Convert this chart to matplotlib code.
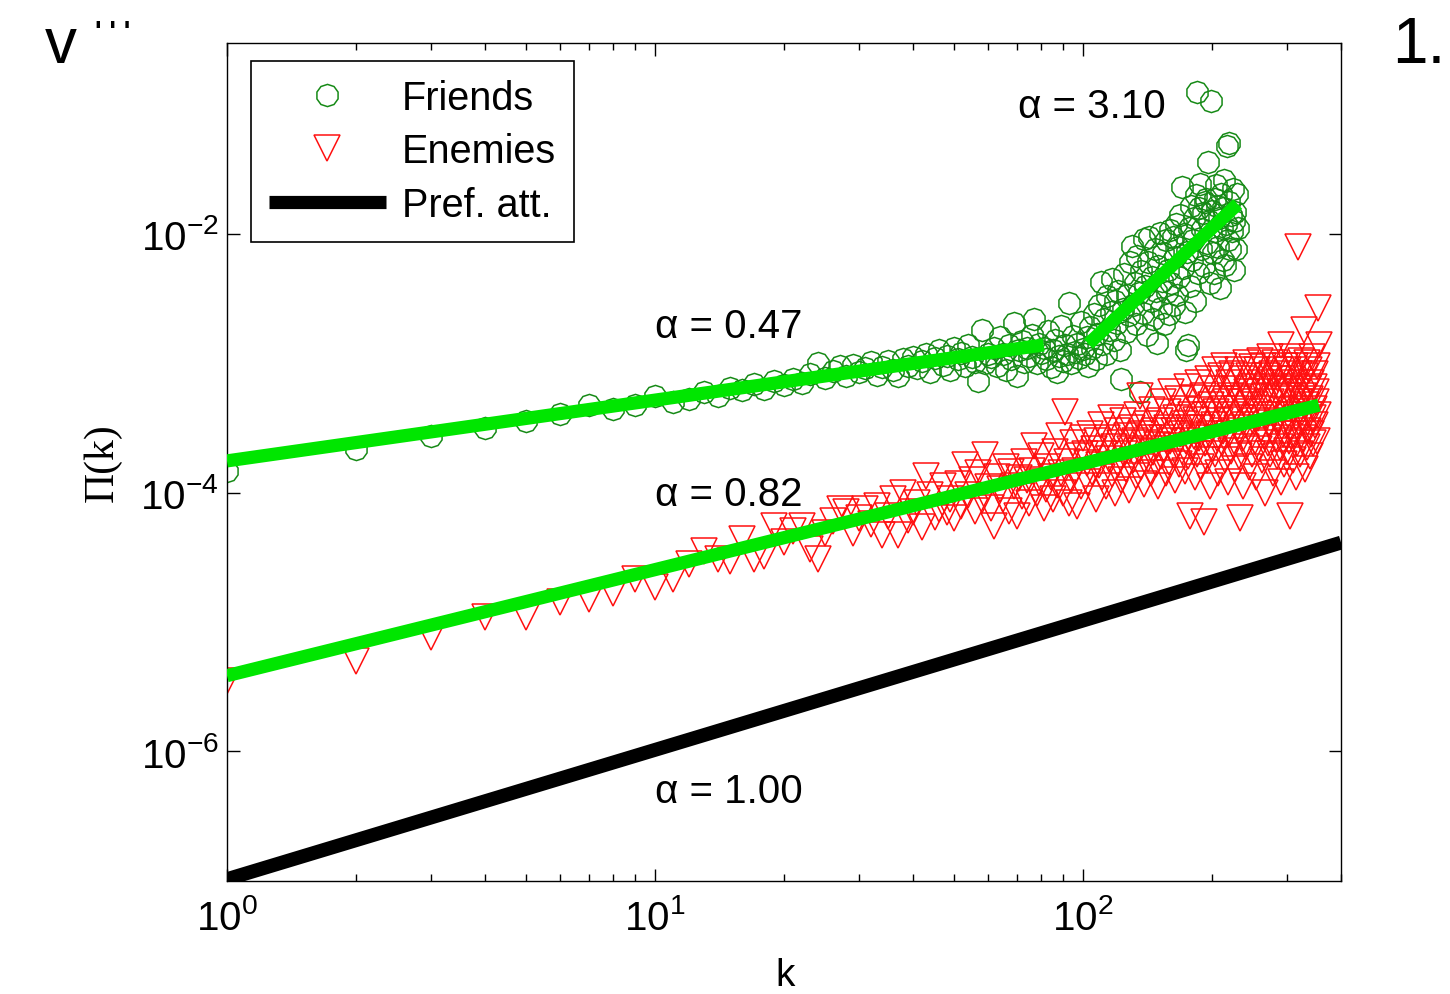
import numpy as np
import matplotlib
matplotlib.use('Agg')
import matplotlib.pyplot as plt
from matplotlib.lines import Line2D
from matplotlib.ticker import FixedLocator, LogLocator, NullLocator, LogFormatterSciNotation, NullFormatter

plt.rcParams['font.family'] = ['Liberation Sans', 'DejaVu Sans']
plt.rcParams['mathtext.fontset'] = 'stix'

# ---------------- data (log10 of Pi(k), one value per integer k) ----------------
friends_logpi = [
    -3.83, -3.66, -3.56, -3.50, -3.45, -3.39, -3.32, -3.35, -3.32, -3.25, -3.30, -3.28,
    -3.22, -3.25, -3.19, -3.21, -3.16, -3.20, -3.14, -3.17, -3.12, -3.15, -3.08, -3.00, -3.11,
    -3.06, -3.02, -3.10, -3.01, -3.07, -3.04, -2.99, -3.09, -3.03, -2.98, -3.05, -3.10, -2.97, -3.02, -2.95,
    -3.04, -2.98, -2.93, -3.07, -2.96, -2.90, -3.01, -2.94, -3.05, -2.88,
    -2.97, -2.92, -3.02, -2.86, -2.95, -2.99, -3.14, -2.74, -3.00, -2.93,
    -2.95, -2.88, -3.02, -2.80, -2.93, -3.05, -2.86, -2.97, -2.69, -3.10,
    -2.90, -2.83, -2.99, -2.88, -2.94, -2.78, -2.66, -3.00, -2.85, -2.92,
    -2.88, -2.97, -2.75, -3.03, -2.90, -2.82, -3.07, -2.94, -2.71, -2.98,
    -2.86, -2.93, -2.53, -3.00, -2.79, -2.91, -2.85, -2.96, -2.68, -2.89,
    -2.93, -2.80, -3.02, -2.72, -2.88, -2.62, -2.97, -2.77, -2.55, -2.37,
    -2.85, -2.66, -2.93, -2.48, -2.74, -2.60, -2.35, -2.82, -2.52, -2.69,
    -2.44, -2.90, -3.12, -2.58, -2.31, -2.76, -2.47, -2.63, -2.22, -2.09,
    -2.55, -2.38, -2.70, -2.17, -2.46, -3.22, -2.29, -2.61, -2.04, -2.40,
    -2.78, -2.22, -2.02, -2.52, -2.33, -2.66, -2.12, -2.44, -2.84, -2.25,
    -1.99, -2.57, -2.36, -2.15, -2.70, -2.05, -2.45, -2.28, -2.62, -1.97,
    -2.38, -2.02, -2.55, -2.18, -1.92, -2.47, -2.10, -2.33, -1.85, -1.64,
    -2.26, -2.00, -2.60, -2.90, -2.14, -2.86, -1.95, -2.40, -1.78, -2.20,
    -2.05, -1.88, -2.52, -1.70, -0.90, -2.30, -1.80, -1.61, -2.12, -1.96,
    -1.84, -2.25, -1.75, -1.73, -2.07, -1.44, -1.90, -2.38, -0.97, -1.82,
    -2.15, -2.30, -1.73, -1.98, -1.62, -1.78, -2.10, -1.88, -2.42, -1.69,
    -1.95, -2.20, -1.80, -1.58, -2.24, -1.92, -1.32, -2.05, -1.30, -1.75,
    -2.12, -1.85, -1.98, -1.65, -2.28, -1.90, -1.83, -2.12, -1.69, -1.95,
]
friends_k = list(range(1, len(friends_logpi) + 1))

enemies_logpi = [
    -5.46, -5.30, -5.12, -4.96, -4.96, -4.85, -4.82, -4.78, -4.67, -4.73, -4.67, -4.55,
    -4.45, -4.51, -4.53, -4.36, -4.51, -4.49, -4.26, -4.38, -4.30, -4.26, -4.44, -4.51, -4.31,
    -4.22, -4.13, -4.15, -4.31, -4.20,
    -4.13, -4.24, -4.10, -4.33, -4.18, -4.05, -4.33, -4.00, -4.21, -4.15,
    -4.08, -4.27, -3.87, -4.02, -4.19, -4.13, -3.95, -4.15, -4.05, -4.20,
    -3.93, -4.10, -3.79, -4.02, -3.90, -4.14, -3.85, -4.06, -3.71, -3.96,
    -4.12, -4.26, -3.88, -3.97, -4.05, -3.80, -4.14, -3.84, -3.95, -4.18,
    -3.89, -4.03, -3.76, -3.90, -4.08, -3.83, -3.64, -4.00, -3.92, -3.72,
    -4.12, -3.97, -3.80, -3.88, -4.05, -3.69, -3.94, -3.56, -3.85, -4.00,
    -3.38, -3.76, -4.08, -3.90, -3.62, -3.83, -4.10, -3.72, -3.95, -3.58,
    -3.70, -3.77, -3.92, -3.55, -3.84, -3.66, -4.05, -3.60, -3.79, -3.48,
    -3.88, -3.70, -3.95, -3.58, -3.74, -3.42, -3.86, -3.65, -4.00, -3.52,
    -3.78, -3.62, -3.90, -3.45, -3.70, -3.82, -3.56, -3.98, -3.66, -3.50,
    -3.75, -3.60, -3.87, -3.40, -3.68, -3.25, -3.80, -3.55, -3.93, -3.62,
    -3.47, -3.74, -3.58, -3.85, -3.36, -3.69, -3.52, -3.78, -3.63, -3.95,
    -3.45, -3.72, -3.58, -3.30, -3.66, -3.85, -3.50, -3.38, -3.76, -3.60,
    -3.22, -3.70, -3.52, -3.90, -3.42, -3.64, -3.28, -3.78, -3.55, -3.68,
    -3.35, -3.47, -3.83, -3.60, -3.18, -3.72, -3.50, -4.18, -3.40, -3.63,
    -3.27, -3.56, -3.88, -3.44, -3.70, -3.15, -3.58, -3.36, -3.80, -3.50,
    -3.25, -4.23, -3.62, -3.40, -3.75, -3.12, -3.55, -3.95, -3.32, -3.66,
    -3.20, -3.48, -3.70, -3.05, -3.38, -3.58, -3.85, -3.28, -3.45, -3.10,
    -3.62, -3.35, -3.52, -3.02, -3.75, -3.30, -3.44, -3.92, -3.15, -3.55,
    -3.25, -3.68, -3.08, -3.40, -3.60, -3.20, -3.82, -3.35, -3.50, -3.05,
    -3.72, -3.28, -4.20, -3.42, -3.12, -3.58, -3.95, -3.30, -3.48, -3.00,
    -3.65, -3.22, -3.38, -3.80, -3.10, -3.52, -3.26, -3.70, -3.03, -3.45,
    -3.18, -3.60, -3.32, -3.88, -3.05, -3.42, -3.22, -3.66, -2.98, -3.50,
    -3.15, -3.75, -3.35, -3.02, -3.56, -3.25, -4.00, -3.40, -3.10, -3.62,
    -3.20, -3.46, -2.95, -3.70, -3.30, -3.08, -3.52, -3.85, -3.18, -3.40,
    -3.00, -3.58, -3.26, -3.72, -3.12, -3.45, -3.05, -3.65, -3.22, -3.92,
    -2.86, -3.36, -3.55, -3.15, -3.78, -3.28, -3.02, -3.48, -3.68, -3.20,
    -3.40, -3.05, -3.60, -3.25, -4.18, -3.12, -3.50, -2.95, -3.35, -3.75,
    -3.18, -3.55, -3.02, -3.42, -3.88, -3.22, -3.62, -2.10, -3.30, -3.08,
    -3.48, -3.70, -3.15, -2.98, -3.38, -3.58, -3.25, -2.74, -3.45, -3.82,
    -3.10, -3.32, -3.65, -3.00, -3.20, -3.52, -3.40, -3.05, -3.72, -3.28,
    -3.15, -3.55, -2.95, -3.42, -3.62, -3.18, -3.35, -3.08, -3.48, -3.22,
    -3.30, -3.60, -3.02, -2.57, -3.40, -2.86,
]
enemies_k = list(range(1, len(enemies_logpi) + 1))

# fitted power laws: log10 Pi = logc + alpha*log10 k over [kmin, kmax]
fit_alpha = [0.47, 3.10, 0.82]
fit_logc = [-3.755, -9.09, -5.416]
fit_kmin = [1, 103, 1]
fit_kmax = [81, 230, 356]

pref_alpha = 1.00
pref_logc = -6.99
pref_kmin, pref_kmax = 1, 401

alpha_labels = ['α = 0.47', 'α = 3.10', 'α = 0.82', 'α = 1.00']
legend_labels = ['Friends', 'Enemies', 'Pref. att.']

# ---------------- figure ----------------
W, H = 1450, 995
fig = plt.figure(figsize=(W / 100, H / 100), dpi=100)
ax = fig.add_axes([227 / W, 1 - 882 / H, (1341 - 227) / W, (882 - 44) / H])
ax.set_xscale('log')
ax.set_yscale('log')

fr_col = '#168a16'
en_col = '#ff1010'
fit_col = '#00e600'
circ_ms, tri_ms = 16, 19

ax.plot(friends_k, 10 ** np.array(friends_logpi), linestyle='none', marker=(10, 0, 0),
        ms=circ_ms, mfc='none', mec=fr_col, mew=1.1, zorder=2)
ax.plot(enemies_k, 10 ** np.array(enemies_logpi), linestyle='none', marker='v',
        ms=tri_ms, mfc='none', mec=en_col, mew=1.1, zorder=2)

for a, c, k0, k1 in zip(fit_alpha, fit_logc, fit_kmin, fit_kmax):
    kk = np.array([k0, k1], dtype=float)
    ax.plot(kk, 10 ** (c + a * np.log10(kk)), color=fit_col, lw=9.5,
            solid_capstyle='butt', zorder=3)

kk = np.array([pref_kmin, pref_kmax], dtype=float)
ax.plot(kk, 10 ** (pref_logc + pref_alpha * np.log10(kk)), color='black', lw=10,
        solid_capstyle='butt', zorder=4)

ax.set_xlim(1, 10 ** 2.603)
ax.set_ylim(10 ** -7.004, 10 ** -0.523)

ax.yaxis.set_major_locator(FixedLocator([1e-6, 1e-4, 1e-2]))
ax.yaxis.set_minor_locator(NullLocator())
ax.yaxis.set_major_formatter(LogFormatterSciNotation())
ax.xaxis.set_major_locator(LogLocator(base=10, numticks=10))
ax.xaxis.set_minor_locator(LogLocator(base=10, subs=np.arange(2, 10), numticks=20))
ax.xaxis.set_minor_formatter(NullFormatter())

ax.tick_params(which='both', direction='in', top=True, right=True, width=1.0, colors='black')
ax.tick_params(which='major', length=9, labelsize=29)
ax.tick_params(which='minor', length=5)
ax.tick_params(axis='x', which='major', pad=12)
ax.tick_params(axis='y', which='major', pad=6)
for s in ax.spines.values():
    s.set_linewidth(1.0)
    s.set_color('black')

# alpha annotations
afs = 29
ax.text(10, 10 ** -2.711, alpha_labels[0], fontsize=afs, ha='left', va='center')
ax.text(70.5, 10 ** -1.010, alpha_labels[1], fontsize=afs, ha='left', va='center')
ax.text(10, 10 ** -4.011, alpha_labels[2], fontsize=afs, ha='left', va='center')
ax.text(10, 10 ** -6.308, alpha_labels[3], fontsize=afs, ha='left', va='center')

# legend
handles = [
    Line2D([], [], linestyle='none', marker=(10, 0, 0), ms=circ_ms, mfc='none', mec=fr_col, mew=1.1),
    Line2D([], [], linestyle='none', marker='v', ms=tri_ms, mfc='none', mec=en_col, mew=1.1),
    Line2D([], [], color='black', lw=9.5, solid_capstyle='butt'),
]
leg = ax.legend(handles, legend_labels, loc='upper left',
                bbox_to_anchor=((251 - 227) / 1114, (882 - 62) / 838),
                borderaxespad=0, fontsize=28.5, handlelength=2.95, handletextpad=0.42,
                borderpad=0.45, labelspacing=0.39, numpoints=1, fancybox=False,
                framealpha=1, edgecolor='black')
leg.get_frame().set_linewidth(1.2)

# axis labels
fig.text(102 / W, 1 - 463 / H, 'Π(k)', rotation=90, ha='center', va='center',
         fontsize=30, family=['Liberation Serif', 'DejaVu Serif'])
fig.text(785 / W, 1 - 994 / H, 'k', ha='center', va='bottom', fontsize=28)

# page fragments around the figure
fig.text(45 / W, 1 - 63 / H, 'v', ha='left', va='baseline', fontsize=46)
fig.text(95 / W, 1 - 40 / H, "' ' '", ha='left', va='baseline', fontsize=20, fontweight='bold')
fig.text(1392 / W, 1 - 63 / H, '1.', ha='left', va='baseline', fontsize=46)

fig.savefig('out.png', dpi=100)
